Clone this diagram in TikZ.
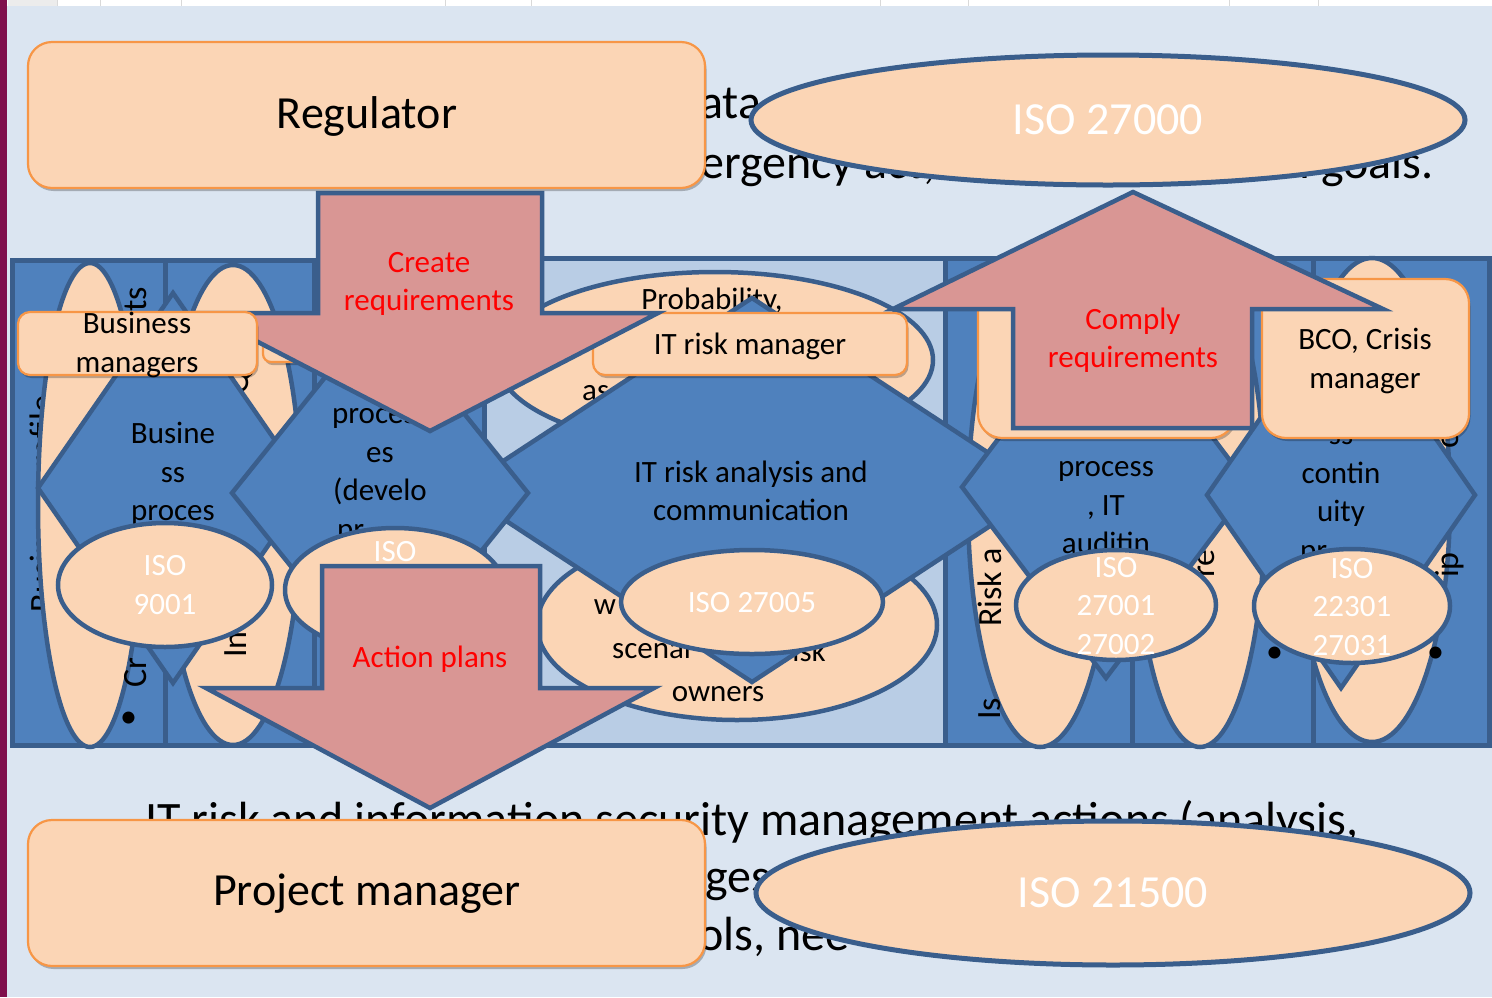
\documentclass[tikz,border=0pt]{standalone}
\usepackage{fontspec}
\setmainfont{Carlito}
\usetikzlibrary{shadows}
\definecolor{bgc}{HTML}{DBE5F1}
\definecolor{peach}{HTML}{FBD5B5}
\definecolor{mblue}{HTML}{4F81BD}
\definecolor{dblue}{HTML}{3A5E8C}
\definecolor{lblue}{HTML}{B9CDE5}
\definecolor{pinkar}{HTML}{D99694}
\definecolor{orng}{HTML}{F79646}
\definecolor{maroon}{HTML}{7F0F4C}
\begin{document}
\begin{tikzpicture}[x=1pt,y=-1pt,
  shp/.style={line width=4.5pt, draw=dblue},
  pe/.style={shp, fill=peach},
  colm/.style={line width=5pt, draw=dblue, fill=mblue},
  dia/.style={shp, fill=mblue, line join=miter},
  arr/.style={shp, fill=pinkar, line join=miter},
  rbox/.style={fill=peach, draw=orng, line width=2.2pt,
    drop shadow={shadow xshift=1.5pt, shadow yshift=-3pt, opacity=0.25, fill=black}},
  tx/.style={font=\fontsize{31}{38.5}\selectfont, align=center, inner sep=0pt},
  wt/.style={tx, text=white},
  rt/.style={tx, text=red},
  big/.style={font=\fontsize{46}{56}\selectfont, inner sep=0pt},
  bgt/.style={font=\fontsize{48}{58}\selectfont, inner sep=0pt},
  rot/.style={font=\fontsize{34}{40}\selectfont, rotate=90, inner sep=0pt},
]
\useasboundingbox (0,0) rectangle (1492,997);
% background
\fill[bgc] (0,0) rectangle (1492,997);
\fill[white] (0,0) rectangle (1492,6);
\fill[gray!15] (8,0) rectangle (57,6);
\foreach \gx in {57,100,181,445,531,880,968,1229,1318}
  \draw[gray!30, line width=0.8pt] (\gx,0) -- (\gx,6);
\fill[maroon] (0,0) rectangle (7,997);

% background text fragments
\node[bgt, anchor=base west] (bt1) at (700,118) {ata};
\node[bgt, anchor=base west] (bt2) at (700,178) {ergency act,};
\node[bgt, anchor=base east] (bt3) at (1434,178) {al goals.};
\node[bgt, anchor=base west] (bt4) at (145,835) {IT risk and information security management actions (analysis,};
\node[bgt, anchor=base west] (bt5) at (705,892) {ges};
\node[bgt, anchor=base west] (bt6) at (698,950) {ols, nee};

% column band
\draw[colm] (12,260) rectangle (165,745);
\draw[colm] (165,260) rectangle (314,745);
\draw[colm] (314,260) rectangle (484,745);
\draw[line width=5pt, draw=dblue, fill=lblue] (484,258) rectangle (945,745);
\draw[colm] (945,258) rectangle (1132,745);
\draw[colm] (1132,258) rectangle (1313,745);
\draw[colm] (1313,258) rectangle (1489,745);

% text of the first column, partly under its ellipse
\node[rot, anchor=base] (r1) at (53,504) {Business profile};

% tall ellipses
\draw[pe] (90,505) ellipse [x radius=52, y radius=242];
\draw[pe] (233,505) ellipse [x radius=68, y radius=240];
\draw[pe] (1040,505) ellipse [x radius=72, y radius=242];
\draw[pe] (1200,505) ellipse [x radius=65, y radius=242];
\draw[pe] (1372,500) ellipse [x radius=78, y radius=242];

% rotated text fragments
\node[rot, anchor=base west] (r2) at (146,688) {Cr};
\node[rot, anchor=base east] (r3) at (146,287) {ts};
\node[rot] (r4) at (131,718) {•};
\node[rot, anchor=base] (r5) at (248,383) {Q};
\node[rot, anchor=base west] (r6) at (246,658) {In};
\node[rot, anchor=base west] (r7) at (1001,627) {Risk a};
\node[rot, anchor=base west] (r8) at (1000,720) {Is};
\node[rot, anchor=base west] (r9) at (1214,578) {re};
\node[rot, anchor=base] (r10) at (1458,440) {o};
\node[rot, anchor=base west] (r11) at (1458,578) {ip};
\node[rot] (r12) at (1277,653) {•};
\node[rot] (r13) at (1438,653) {•};

% ellipses in the middle panel
\draw[pe] (715,360) ellipse [x radius=218, y radius=88];
\node[tx] (tProb) at (712,301) {Probability,};
\node[tx, anchor=west] (tAs) at (582,393) {as};
\draw[pe] (737,625) ellipse [x radius=200, y radius=95];
\node[tx] (tW) at (605,607) {w};
\node[tx, anchor=west] (tScen) at (612,651) {scenar};
\node[tx, anchor=east] (tIsk) at (826,651) {isk};
\node[tx] (tOwn) at (718,694) {owners};

% diamonds
\draw[dia] (173,293) -- (308,488) -- (173,683) -- (38,488) -- cycle;
\node[tx] (dA) at (173,474) {Busine\\ss\\proces};
\draw[dia] (752,298) -- (1045,490) -- (752,682) -- (459,490) -- cycle;
\node[tx] (dIT) at (751,491) {IT risk analysis and\\communication};
\draw[dia] (380,309) -- (528,493) -- (380,677) -- (232,493) -- cycle;
\node[tx] (dB) at (380,457) {process\\es\\(develo};
\node[tx, anchor=west] (dB2) at (337,534) {pr};
\draw[dia] (1106,296) -- (1250,487) -- (1106,678) -- (962,487) -- cycle;
\node[tx] (dD) at (1106,508) {process\\, IT\\auditin};
\draw[dia] (1341,302) -- (1475,495) -- (1341,688) -- (1207,495) -- cycle;
\node[tx] (dE) at (1341,478) {ss\\contin\\uity};
\node[tx, anchor=west] (dE2) at (1300,555) {pr};

% ISO ellipses
\draw[pe] (165,585) ellipse [x radius=107, y radius=62];
\node[wt] (i9001) at (165,585) {ISO\\9001};
\draw[pe] (395,590) ellipse [x radius=110, y radius=62];
\node[wt] (iB) at (395,552) {ISO};
\draw[pe] (752,602) ellipse [x radius=131, y radius=52];
\node[wt] (i27005) at (752,603) {ISO 27005};
\draw[pe] (1116,605) ellipse [x radius=100, y radius=55];
\node[wt] (i27001) at (1116,606) {ISO\\27001\\27002};
\draw[pe] (1352,606) ellipse [x radius=98, y radius=57];
\node[wt] (i22301) at (1352,607) {ISO\\22301\\27031};

% role boxes (below arrows)
\draw[rbox, rounded corners=8pt] (263,318) rectangle (420,362);
\draw[rbox, rounded corners=24pt] (978,282) rectangle (1235,438);
\draw[rbox, rounded corners=24pt] (1262,279) rectangle (1469,438);
\node[tx] (tBCO) at (1365,361) {BCO, Crisis\\manager};
\draw[rbox, rounded corners=12pt] (593,313) rectangle (907,375);
\node[tx] (tITm) at (750,346) {IT risk manager};

% block arrows
\draw[arr] (318,193) -- (542,193) -- (542,313) -- (658,313) -- (430,431) -- (202,313) -- (318,313) -- cycle;
\node[rt] (aCreate) at (429,284) {Create\\requirements};
\draw[arr] (322,566) -- (540,566) -- (540,688) -- (654,688) -- (430,808) -- (206,688) -- (322,688) -- cycle;
\node[rt] (aAction) at (430,659) {Action plans};
\draw[arr] (1133,192) -- (1383,309) -- (1252,309) -- (1252,428) -- (1013,428) -- (1013,309) -- (893,309) -- cycle;
\node[rt] (aComply) at (1133,340) {Comply\\requirements};

% business managers box (on top)
\draw[rbox, rounded corners=12pt] (18,312) rectangle (257,375);
\node[tx] (tBus) at (137,345) {Business\\managers};

% top and bottom
\draw[rbox, rounded corners=24pt] (28,42) rectangle (705,188);
\node[big] (tReg) at (367,116) {Regulator};
\draw[pe, line width=5pt] (1108,120) ellipse [x radius=357, y radius=65];
\node[big, text=white] (tI27000) at (1108,120) {ISO 27000};
\draw[rbox, rounded corners=24pt] (28,820) rectangle (705,966);
\node[big] (tPM) at (367,894) {Project manager};
\draw[pe, line width=5pt] (1113,893) ellipse [x radius=357, y radius=72];
\node[big, text=white] (tI21500) at (1113,893) {ISO 21500};
\end{tikzpicture}
\end{document}
